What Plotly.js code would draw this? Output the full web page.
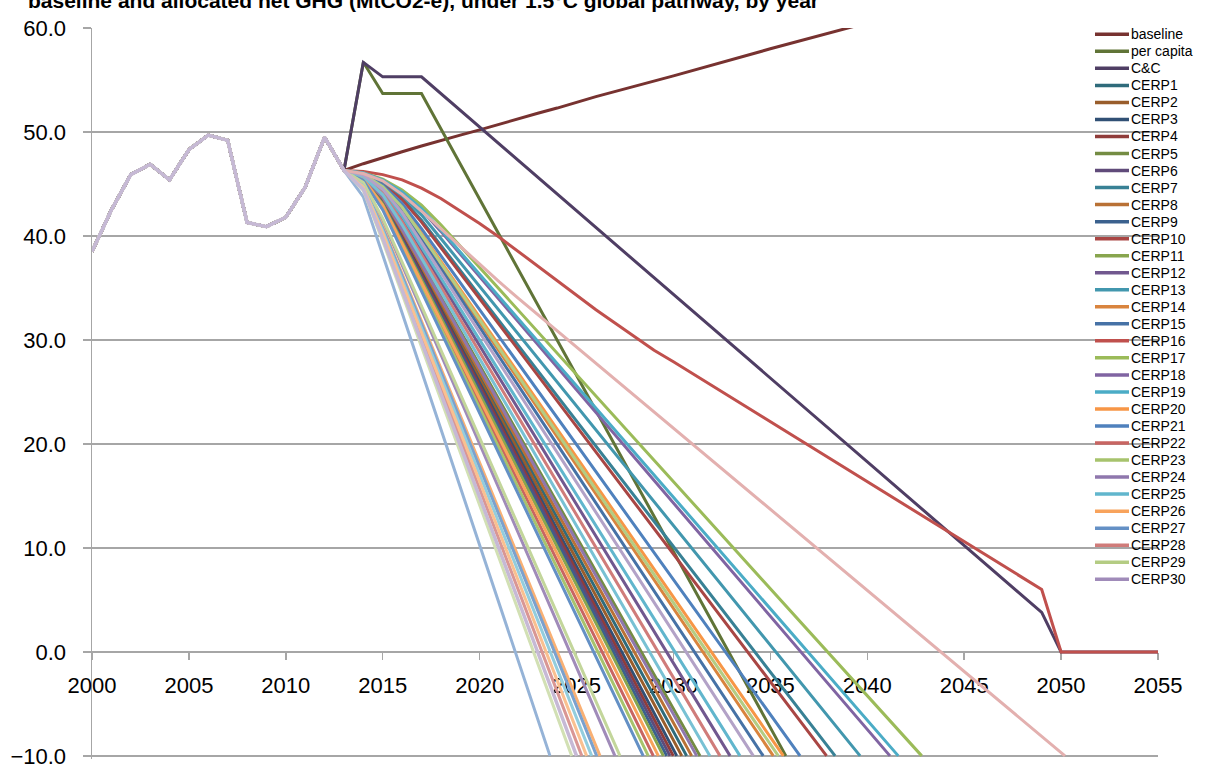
<!DOCTYPE html>
<html>
<head>
<meta charset="utf-8">
<script src="https://cdn.plot.ly/plotly-3.0.1.min.js"></script>
<style>html,body{margin:0;padding:0;background:#fff;}#chart{width:1208px;height:765px;}</style>
</head>
<body>
<div id="chart"></div>
<script>
// ---------------- DATA ----------------
const chartTitle = 'baseline and allocated net GHG (MtCO2-e), under 1.5°C global pathway, by year';

const histYears  = [2000,2001,2002,2003,2004,2005,2006,2007,2008,2009,2010,2011,2012];
const histValues = [38.5,42.5,45.9,46.9,45.4,48.3,49.7,49.2,41.3,40.9,41.8,44.7,49.5];

const baselineYears  = [2013,2014,2015,2016,2017,2018,2019,2020,2021,2022,2023,2024,2025,2026,2030,2035,2040,2045,2050,2055];
const baselineValues = [46.3,46.95,47.55,48.1,48.65,49.2,49.7,50.2,50.75,51.3,51.8,52.3,52.85,53.4,55.4,58.0,60.5,63.0,65.5,68.0];

const perCapitaYears  = [2013,2014,2015,2016,2017,2035.8];
const perCapitaValues = [46.3,56.7,53.7,53.7,53.7,-10];

const ccYears  = [2013,2014,2015,2016,2017,2049,2050,2055];
const ccValues = [46.3,56.7,55.3,55.3,55.3,3.8,0,0];

const cerpNames = [];
for (let k = 1; k <= 42; k++) cerpNames.push('CERP' + k);

const cerpYears = [
  [2013,2014,2015,2016,2030.68],
  [2013,2014,2015,2016,2030.43],
  [2013,2014,2015,2016,2030.17],
  [2013,2014,2015,2016,2029.99],
  [2013,2014,2015,2016,2031.37],
  [2013,2014,2015,2016,2029.82],
  [2013,2014,2015,2016,2017,2018,2038.34],
  [2013,2014,2015,2016,2030.94],
  [2013,2014,2015,2016,2029.65],
  [2013,2014,2015,2016,2017,2037.9],
  [2013,2014,2015,2016,2029.48],
  [2013,2014,2015,2016,2032.92],
  [2013,2014,2015,2016,2017,2018,2039.63],
  [2013,2014,2015,2016,2017,2035.15],
  [2013,2014,2015,2016,2017,2034.63],
  [2013,2014,2015,2016,2017,2018,2019,2020,2021,2022,2023,2024,2025,2026,2027,2028,2029,2030,2049,2050,2055],
  [2013,2014,2015,2016,2017,2018,2042.81],
  [2013,2014,2015,2016,2017,2018,2041.17],
  [2013,2014,2015,2016,2017,2018,2041.6],
  [2013,2014,2015,2016,2017,2035.67],
  [2013,2014,2015,2016,2017,2036.53],
  [2013,2014,2015,2016,2028.96],
  [2013,2014,2015,2016,2028.70],
  [2013,2014,2015,2016,2031.2],
  [2013,2014,2015,2016,2017,2033.43],
  [2013,2014,2015,2016,2029.22],
  [2013,2014,2015,2016,2028.44],
  [2013,2014,2015,2016,2032.4],
  [2013,2014,2015,2016,2017,2035.41],
  [2013,2014,2015,2026.98],
  [2013,2014,2015,2016,2031.88],
  [2013,2014,2015,2026.21],
  [2013,2014,2015,2026.04],
  [2013,2014,2015,2025.27],
  [2013,2014,2015,2027.24],
  [2013,2014,2015,2016,2017,2034.12],
  [2013,2014,2015,2025.78],
  [2013,2014,2015,2025.52],
  [2013,2014,2015,2023.63],
  [2013,2014,2015,2016,2017,2018,2019,2020,2021,2022,2050.2],
  [2013,2014,2015,2024.75],
  [2013,2014,2015,2025.0]
];

const cerpValues = [
  [46.3,45.62,43.57,40.32,-10],
  [46.3,45.59,43.48,40.14,-10],
  [46.3,45.57,43.37,39.96,-10],
  [46.3,45.55,43.30,39.83,-10],
  [46.3,45.68,43.81,40.77,-10],
  [46.3,45.53,43.22,39.71,-10],
  [46.3,46.00,45.10,43.61,41.52,39.10,-10],
  [46.3,45.64,43.66,40.48,-10],
  [46.3,45.51,43.14,39.58,-10],
  [46.3,45.99,45.06,43.50,41.33,-10],
  [46.3,45.49,43.07,39.46,-10],
  [46.3,45.78,44.24,41.66,-10],
  [46.3,46.03,45.23,43.90,42.03,39.75,-10],
  [46.3,45.90,44.68,42.66,39.97,-10],
  [46.3,45.87,44.59,42.46,39.68,-10],
  [46.3,46.2,45.9,45.4,44.6,43.6,42.4,41.2,39.9,38.5,37.1,35.7,34.3,32.9,31.6,30.3,29.0,27.9,6.0,0,0],
  [46.3,46.09,45.47,44.43,42.97,41.08,-10],
  [46.3,46.06,45.36,44.18,42.52,40.44,-10],
  [46.3,46.07,45.38,44.24,42.64,40.60,-10],
  [46.3,45.92,44.77,42.85,40.26,-10],
  [46.3,45.95,44.89,43.12,40.70,-10],
  [46.3,45.43,42.81,39.05,-10],
  [46.3,45.39,42.66,38.82,-10],
  [46.3,45.66,43.75,40.65,-10],
  [46.3,45.81,44.35,41.92,38.95,-10],
  [46.3,45.46,42.94,39.26,-10],
  [46.3,45.35,42.51,38.60,-10],
  [46.3,45.75,44.10,41.36,-10],
  [46.3,45.91,44.73,42.76,40.11,-10],
  [46.3,45.09,41.50,-10],
  [46.3,45.72,43.96,41.07,-10],
  [46.3,44.90,40.89,-10],
  [46.3,44.85,40.74,-10],
  [46.3,44.60,40.04,-10],
  [46.3,45.14,41.70,-10],
  [46.3,45.85,44.50,42.24,39.37,-10],
  [46.3,44.77,40.51,-10],
  [46.3,44.69,40.28,-10],
  [46.3,43.76,38.20,-10],
  [46.3,46.0,45.3,44.0,42.4,40.7,39.0,37.3,35.6,34.0,-10],
  [46.3,44.38,39.50,-10],
  [46.3,44.48,39.76,-10]
];

const legendCount = 33; // baseline, per capita, C&C, CERP1..CERP30 shown in the legend
const yTicks = [-10,0,10,20,30,40,50,60];
const xTicks = [2000,2005,2010,2015,2020,2025,2030,2035,2040,2045,2050,2055];

// ---------------- STYLE ----------------
const baseHues = ['#C0504D','#9BBB59','#8064A2','#4BACC6','#F79646','#4F81BD'];
const tierShift = [-0.38,-0.25,-0.12,0,0.12,0.25,0.40,0.55];
function shade(hex, f) {
  const n = parseInt(hex.slice(1), 16);
  let c = [(n >> 16) & 255, (n >> 8) & 255, n & 255];
  c = c.map(v => Math.round(f < 0 ? v * (1 + f) : v + (255 - v) * f));
  return 'rgb(' + c.join(',') + ')';
}
function seriesColor(i) { return shade(baseHues[i % 6], tierShift[Math.floor(i / 6)]); }

const series = [
  {name: 'baseline', x: baselineYears, y: baselineValues},
  {name: 'per capita', x: perCapitaYears, y: perCapitaValues},
  {name: 'C&C', x: ccYears, y: ccValues}
];
cerpNames.forEach((nm, i) => series.push({name: nm, x: cerpYears[i], y: cerpValues[i]}));

const traces = series.map((s, i) => ({
  type: 'scatter', mode: 'lines', name: s.name,
  x: histYears.concat(s.x), y: histValues.concat(s.y),
  line: {color: seriesColor(i), width: i === series.length - 1 ? 3.5 : 3},
  hoverinfo: 'x+y+name'
}));

// plot-area pixel geometry
const L = 92, R = 50, T = 28, B = 6, W = 1208, H = 765;
const yMin = -10.3, yMax = 60;
const pw = W - L - R, ph = H - T - B;
const px2x = p => (p - L) / pw;
const px2y = p => 1 - (p - T) / ph;

const shapes = [], annotations = [];
for (let i = 0; i < legendCount; i++) {
  const yy = px2y(34.3 + i * 17.03);
  shapes.push({type: 'line', xref: 'paper', yref: 'paper', x0: px2x(1095), x1: px2x(1129), y0: yy, y1: yy,
    line: {color: seriesColor(i), width: 3.5}});
  annotations.push({xref: 'paper', yref: 'paper', x: px2x(1129), y: yy, xanchor: 'left', yanchor: 'middle',
    text: series[i].name, showarrow: false, font: {family: 'Liberation Sans, Arial, sans-serif', size: 14, color: '#000'}});
}
annotations.push({xref: 'paper', yref: 'paper', x: px2x(26), y: px2y(1), xanchor: 'left', yanchor: 'middle',
  text: '<b>' + chartTitle + '</b>', showarrow: false,
  font: {family: 'Liberation Sans, Arial, sans-serif', size: 21, color: '#000'}});

const gridGray = '#A6A6A6';
const layout = {
  width: W, height: H,
  margin: {l: L, r: R, t: T, b: B, pad: 0},
  paper_bgcolor: '#fff', plot_bgcolor: '#fff',
  showlegend: false,
  font: {family: 'Liberation Sans, Arial, sans-serif', size: 22, color: '#000'},
  xaxis: {
    range: [2000, 2055], tickvals: xTicks, tickformat: 'd',
    anchor: 'free', position: (0 - yMin) / (yMax - yMin),
    showgrid: false, zeroline: false,
    showline: true, linecolor: gridGray, linewidth: 1.5,
    ticks: 'outside', ticklen: 7, tickcolor: gridGray, tickwidth: 1.5,
    ticklabelstandoff: 6, layer: 'below traces',
    tickfont: {size: 22, color: '#000'}
  },
  yaxis: {
    range: [yMin, yMax], tickvals: yTicks, tickformat: '.1f',
    showgrid: true, gridcolor: gridGray, gridwidth: 1.5,
    zeroline: false,
    showline: true, linecolor: gridGray, linewidth: 1.5,
    ticks: 'outside', ticklen: 8, tickcolor: gridGray, tickwidth: 1.5,
    ticklabelstandoff: 12, ticklabeloverflow: 'allow', layer: 'below traces',
    tickfont: {size: 22, color: '#000'}
  },
  shapes: shapes,
  annotations: annotations
};

Plotly.newPlot('chart', traces, layout, {displayModeBar: false, staticPlot: true});
</script>
</body>
</html>
